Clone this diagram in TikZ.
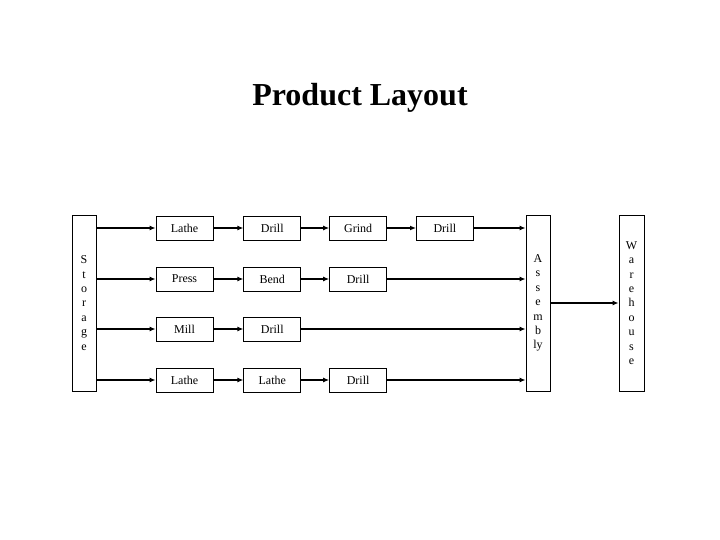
\documentclass[tikz,border=0pt]{standalone}
\usepackage{fontspec}
\setmainfont{Liberation Serif}
\usetikzlibrary{positioning,arrows.meta}

\begin{document}
\begin{tikzpicture}[x=1pt,y=-1pt,
    stationbox/.style={draw,line width=0.8pt,minimum width=57pt,minimum height=24pt,
                       inner sep=0pt,font=\fontsize{12}{14}\selectfont},
    tallbox/.style={draw,line width=0.8pt,minimum width=24pt,minimum height=176pt,
                    inner sep=0pt,align=center,font=\fontsize{12}{14.4}\selectfont},
    flow/.style={line width=2.2pt,-{Latex[length=6pt,width=5pt]}}]

    \useasboundingbox (0,0) rectangle (720,540);

    \node[font=\bfseries\fontsize{32}{38}\selectfont] (title) at (360,98) {Product Layout};

    % end points
    \node[tallbox] (storage) at (84,303) {S\\t\\o\\r\\a\\g\\e};
    \node[tallbox] (assembly) at (538,303) {A\\s\\s\\e\\m\\b\\ly};
    \node[tallbox,minimum width=25pt] (warehouse) at (631.5,303) {W\\a\\r\\e\\h\\o\\u\\s\\e};

    % row 1
    \node[stationbox] (r1a) at (184.5,228) {Lathe};
    \node[stationbox,right=30pt of r1a] (r1b) {Drill};
    \node[stationbox,right=28pt of r1b] (r1c) {Grind};
    \node[stationbox,right=29pt of r1c] (r1d) {Drill};

    % row 2
    \node[stationbox] (r2a) at (184.5,279) {Press};
    \node[stationbox,right=30pt of r2a] (r2b) {Bend};
    \node[stationbox,right=28pt of r2b] (r2c) {Drill};

    % row 3
    \node[stationbox] (r3a) at (184.5,329) {Mill};
    \node[stationbox,right=30pt of r3a] (r3b) {Drill};

    % row 4
    \node[stationbox] (r4a) at (184.5,380) {Lathe};
    \node[stationbox,right=30pt of r4a] (r4b) {Lathe};
    \node[stationbox,right=28pt of r4b] (r4c) {Drill};

    % flows
    \draw[flow] (storage.east |- r1a) -- (r1a);
    \draw[flow] (r1a) -- (r1b);
    \draw[flow] (r1b) -- (r1c);
    \draw[flow] (r1c) -- (r1d);
    \draw[flow] (r1d) -- (assembly.west |- r1d);

    \draw[flow] (storage.east |- r2a) -- (r2a);
    \draw[flow] (r2a) -- (r2b);
    \draw[flow] (r2b) -- (r2c);
    \draw[flow] (r2c) -- (assembly.west |- r2c);

    \draw[flow] (storage.east |- r3a) -- (r3a);
    \draw[flow] (r3a) -- (r3b);
    \draw[flow] (r3b) -- (assembly.west |- r3b);

    \draw[flow] (storage.east |- r4a) -- (r4a);
    \draw[flow] (r4a) -- (r4b);
    \draw[flow] (r4b) -- (r4c);
    \draw[flow] (r4c) -- (assembly.west |- r4c);

    \draw[flow] (assembly) -- (warehouse);
\end{tikzpicture}
\end{document}
